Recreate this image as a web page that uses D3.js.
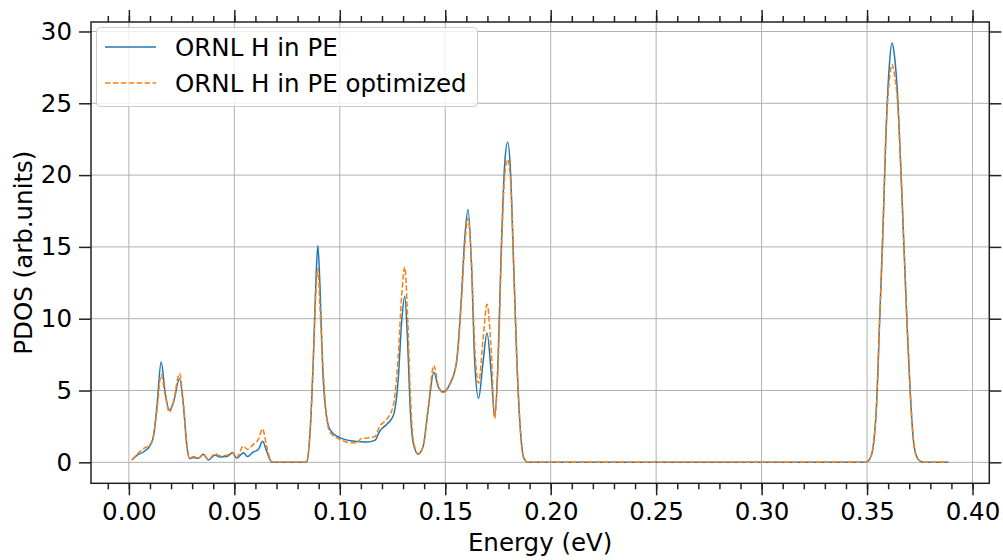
<!DOCTYPE html>
<html>
<head>
<meta charset="utf-8">
<script src="https://cdn.jsdelivr.net/npm/d3@7"></script>
<style>
  body { margin: 0; background: #fff; }
  text { font-family: "DejaVu Sans", sans-serif; fill: #000; }
</style>
</head>
<body>
<div id="chart"></div>
<script>
//Data: energy (eV) and the two PDOS curves
const energy = [0.0014, 0.0038, 0.0069, 0.0101, 0.0117, 0.0133, 0.0153, 0.0172, 0.0192, 0.0211,
  0.0240, 0.0259, 0.0275, 0.0287, 0.0306, 0.0330, 0.0353, 0.0377, 0.0409, 0.0432,
  0.0464, 0.0492, 0.0511, 0.0543, 0.0562, 0.0590, 0.0614, 0.0634, 0.0653, 0.0677,
  0.0700, 0.0830, 0.0843, 0.0858, 0.0874, 0.0887, 0.0896, 0.0906, 0.0919, 0.0931,
  0.0953, 0.1000, 0.1063, 0.1085, 0.1100, 0.1127, 0.1166, 0.1190, 0.1222, 0.1253,
  0.1277, 0.1293, 0.1308, 0.1321, 0.1335, 0.1348, 0.1371, 0.1395, 0.1419, 0.1446,
  0.1466, 0.1490, 0.1521, 0.1553, 0.1577, 0.1592, 0.1608, 0.1624, 0.1640, 0.1658,
  0.1679, 0.1698, 0.1719, 0.1734, 0.1750, 0.1766, 0.1782, 0.1796, 0.1809, 0.1824,
  0.1840, 0.1856, 0.1872, 0.1892, 0.3480, 0.3500, 0.3515, 0.3530, 0.3545, 0.3560,
  0.3575, 0.3590, 0.3605, 0.3618, 0.3630, 0.3645, 0.3660, 0.3675, 0.3690, 0.3705,
  0.3720, 0.3735, 0.3750, 0.3770, 0.3886];

const pdosOrnl = [0.16, 0.49, 0.72, 1.18, 1.83, 3.9, 6.98, 4.85, 3.64, 4.15,
  5.82, 3.9, 1.14, 0.26, 0.33, 0.28, 0.56, 0.16, 0.51, 0.37,
  0.40, 0.67, 0.28, 0.67, 0.40, 0.72, 0.90, 1.46, 0.79, 0.02,
  0, 0, 0.05, 1.83, 6.93, 12.7, 15.1, 12.3, 6.47, 3.92,
  2.30, 1.72, 1.48, 1.45, 1.43, 1.41, 1.53, 2.18, 2.64, 3.22,
  5.77, 9.72, 11.57, 8.56, 3.46, 1.37, 0.56, 1.1, 3.69, 6.28,
  5.3, 4.89, 5.43, 6.93, 11.57, 15.5, 17.6, 13.9, 6.93, 4.45,
  6.93, 9.0, 6.0, 3.22, 6.93, 15.0, 20.8, 22.28, 20.4, 13.9,
  6.93, 2.3, 0.32, 0, 0, 0.05, 0.3, 1.2, 4.0, 10.0,
  16.0, 23.0, 27.5, 29.2, 28.3, 25.5, 20.5, 15.0, 9.5, 4.8,
  1.5, 0.4, 0.1, 0, 0];

const pdosOptimized = [0.16, 0.55, 0.95, 1.25, 1.9, 3.6, 6.1, 4.7, 3.5, 4.2,
  6.19, 4.0, 1.2, 0.3, 0.4, 0.3, 0.55, 0.2, 0.6, 0.45,
  0.5, 0.7, 0.35, 1.15, 0.9, 1.25, 1.6, 2.34, 1.13, 0.05,
  0, 0, 0.05, 1.9, 7.0, 12.0, 13.5, 10.8, 7.0, 4.2,
  2.1, 1.6, 1.35, 1.37, 1.65, 1.7, 1.79, 2.53, 2.99, 3.92,
  7.4, 11.5, 13.6, 10.4, 4.6, 1.6, 0.6, 1.1, 3.8, 6.75,
  5.4, 4.85, 5.4, 6.9, 11.3, 15.0, 17.0, 14.0, 8.0, 5.5,
  8.5, 11.0, 7.5, 3.04, 6.6, 14.5, 20.0, 21.08, 19.8, 13.9,
  6.93, 2.3, 0.32, 0, 0, 0.05, 0.3, 1.2, 4.0, 10.0,
  16.0, 23.0, 26.5, 27.7, 27.0, 25.0, 20.5, 15.0, 9.5, 4.8,
  1.5, 0.4, 0.1, 0, 0];

const seriesNames = ["ORNL H in PE", "ORNL H in PE optimized"];
const xTicks = [0, 0.05, 0.10, 0.15, 0.20, 0.25, 0.30, 0.35, 0.40];
const yTicks = [0, 5, 10, 15, 20, 25, 30];

//Setting the dimensions and margins of the graph
const margin = {top: 22, right: 13.7, bottom: 76.7, left: 91},
    width = 1003 - margin.left - margin.right,
    height = 560 - margin.top - margin.bottom;
const fontSize = "24.5px";

const svg = d3.select("#chart")
    .append("svg")
    .attr("width", 1003)
    .attr("height", 560)
    .append("g")
    .attr("transform", `translate(${margin.left},${margin.top})`);

//Scales with matplotlib-like 5% padding
const xPad = (d3.max(energy) - d3.min(energy)) * 0.05;
const x = d3.scaleLinear()
    .domain([d3.min(energy) - xPad, d3.max(energy) + xPad])
    .range([0, width]);
const yMax = d3.max(pdosOrnl);
const y = d3.scaleLinear()
    .domain([-yMax * 0.05, yMax * 1.05])
    .range([height, 0]);

//Grid lines
svg.append("g")
    .selectAll("line")
    .data(xTicks)
    .join("line")
    .attr("x1", d => x(d)).attr("x2", d => x(d))
    .attr("y1", 0).attr("y2", height)
    .attr("stroke", "#b0b0b0").attr("stroke-width", 1);
svg.append("g")
    .selectAll("line")
    .data(yTicks)
    .join("line")
    .attr("x1", 0).attr("x2", width)
    .attr("y1", d => y(d)).attr("y2", d => y(d))
    .attr("stroke", "#b0b0b0").attr("stroke-width", 1);

//Curves
const line = d3.line()
    .x(d => x(d[0]))
    .y(d => y(d[1]))
    .curve(d3.curveMonotoneX);

svg.append("path")
    .datum(d3.zip(energy, pdosOrnl))
    .attr("d", line)
    .attr("fill", "none")
    .attr("stroke", "#1f77b4")
    .attr("stroke-width", 1.5);

svg.append("path")
    .datum(d3.zip(energy, pdosOptimized))
    .attr("d", line)
    .attr("fill", "none")
    .attr("stroke", "#ff7f0e")
    .attr("stroke-width", 1.5)
    .attr("stroke-dasharray", "5.5,2.4");

//Axes, ticks outward on all four sides
const minorX = d3.range(-0.01, 0.41, 0.01).filter(v => x(v) >= 0 && x(v) <= width);
const fmt = d3.format(".2f");

function styleAxis(g) {
    g.select(".domain").remove();
    g.selectAll(".tick line").attr("stroke", "#222").attr("stroke-width", 1.5);
    g.selectAll(".tick text").style("font-size", fontSize).style("font-family", "DejaVu Sans");
}

svg.append("g")
    .attr("transform", `translate(0,${height})`)
    .call(d3.axisBottom(x).tickValues(minorX).tickSize(6).tickFormat(""))
    .call(styleAxis);
svg.append("g")
    .call(d3.axisTop(x).tickValues(minorX).tickSize(6).tickFormat(""))
    .call(styleAxis);

svg.append("g")
    .attr("transform", `translate(0,${height})`)
    .call(d3.axisBottom(x).tickValues(xTicks).tickSize(12).tickPadding(7).tickFormat(fmt))
    .call(styleAxis);
svg.append("g")
    .call(d3.axisTop(x).tickValues(xTicks).tickSize(12).tickFormat(""))
    .call(styleAxis);
svg.append("g")
    .call(d3.axisLeft(y).tickValues(yTicks).tickSize(12).tickPadding(7))
    .call(styleAxis);
svg.append("g")
    .attr("transform", `translate(${width},0)`)
    .call(d3.axisRight(y).tickValues(yTicks).tickSize(12).tickFormat(""))
    .call(styleAxis);

//Frame
svg.append("rect")
    .attr("width", width).attr("height", height)
    .attr("fill", "none")
    .attr("stroke", "#222").attr("stroke-width", 1.5);

//Axis labels
svg.append("text")
    .attr("x", width / 2)
    .attr("y", height + 68)
    .attr("text-anchor", "middle")
    .style("font-size", fontSize)
    .text("Energy (eV)");
svg.append("text")
    .attr("transform", `translate(${32 - margin.left},${height / 2}) rotate(-90)`)
    .attr("text-anchor", "middle")
    .style("font-size", fontSize)
    .text("PDOS (arb.units)");

//Legend
const legend = svg.append("g").attr("transform", "translate(5.5,5.5)");
legend.append("rect")
    .attr("width", 381).attr("height", 79).attr("rx", 4)
    .attr("fill", "#fff").attr("fill-opacity", 0.8)
    .attr("stroke", "#cccccc").attr("stroke-width", 1);
const colors = ["#1f77b4", "#ff7f0e"];
seriesNames.forEach((name, i) => {
    legend.append("line")
        .attr("x1", 8.5).attr("x2", 59.5)
        .attr("y1", 19.5 + i * 36).attr("y2", 19.5 + i * 36)
        .attr("stroke", colors[i]).attr("stroke-width", 1.5)
        .attr("stroke-dasharray", i === 1 ? "5.5,2.4" : null);
    legend.append("text")
        .attr("x", 78.5).attr("y", 28.5 + i * 36)
        .style("font-size", fontSize)
        .text(name);
});
</script>
</body>
</html>
